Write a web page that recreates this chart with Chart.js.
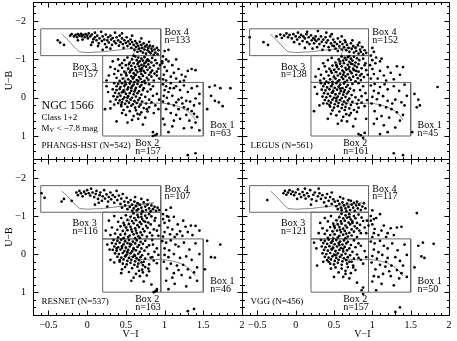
<!DOCTYPE html>
<html><head><meta charset="utf-8">
<script src="https://cdn.jsdelivr.net/npm/chart.js@4"></script>
<style>
body{margin:0;background:#fff}
#wrap{position:relative;width:457px;height:341px;overflow:hidden}
.pane{position:absolute}
</style>
</head><body>
<div id="wrap">
<div class="pane" id="p0" style="left:0;top:0;width:244px;height:161px"><canvas id="c0"></canvas></div>
<div class="pane" id="p1" style="left:240px;top:0;width:212px;height:161px"><canvas id="c1"></canvas></div>
<div class="pane" id="p2" style="left:0;top:157px;width:248px;height:184px"><canvas id="c2"></canvas></div>
<div class="pane" id="p3" style="left:240px;top:157px;width:217px;height:184px"><canvas id="c3"></canvas></div>
</div>
<script>
// ---------- data ----------
const X_TICKS = [-0.5, 0, 0.5, 1, 1.5, 2];
const Y_TICKS = [-2, -1, 0, 1];
const PANEL_NAMES = ['PHANGS-HST', 'LEGUS', 'RESNET', 'VGG'];
const PANEL_N = [542, 561, 537, 456];
// counts in Box 1, Box 2, Box 3, Box 4
const BOX_COUNTS = [[63,157,157,133],[45,161,138,152],[46,163,116,107],[50,157,121,117]];
const BOX4 = [[-0.6,-1.8],[0.95,-1.8],[0.95,-1.1],[-0.6,-1.1],[-0.6,-1.8]];
const BOX3 = [[0.2,-1.1],[0.95,-1.1],[0.95,-0.4],[0.2,-0.4],[0.2,-1.1]];
const BOX2 = [[0.2,-0.4],[0.95,-0.4],[0.95,1.0],[0.2,1.0],[0.2,-0.4]];
const BOX1 = [[0.95,-0.4],[1.5,-0.4],[1.5,1.0],[0.95,1.0],[0.95,-0.4]];
const TRACK = [[-0.33,-1.66],[-0.27,-1.55],[-0.2,-1.4],[-0.14,-1.27],[-0.1,-1.2],[0,-1.18],[0.2,-1.2],[0.5,-1.27],[0.7,-1.31],[0.86,-1.35],[0.72,-1.3],[0.62,-1.25],[0.58,-1.05],[0.53,-0.8],[0.49,-0.55],[0.48,-0.3],[0.5,-0.1],[0.55,0.05],[0.63,0.13],[0.8,0.15],[0.97,0.14],[1.1,0.18],[1.2,0.24],[1.3,0.35],[1.36,0.47],[1.4,0.58]];

const PTS_PHANGS = [
[-.38,-1.5],[-.35,-1.44],[-.3,-1.38],[-.22,-1.62],[-.2,-1.66],[-.17,-1.6],[-.15,-1.64],[-.13,-1.58],[-.12,-1.66],[-.1,-1.62],[-.08,-1.67],[-.07,-1.6],[-.05,-1.64],[-.03,-1.58],[-.02,-1.66],[0,-1.62],[.02,-1.68],[.01,-1.55],[-.06,-1.52],[-.12,-1.5],[.04,-1.6],[.06,-1.65],[.08,-1.53],[.1,-1.7],
[.07,-1.45],[.1,-1.58],[.12,-1.5],[.13,-1.62],[.15,-1.42],[.16,-1.55],[.18,-1.72],[.19,-1.48],[.2,-1.6],[.22,-1.52],[.23,-1.4],[.24,-1.65],[.26,-1.5],[.27,-1.58],[.28,-1.44],[.3,-1.62],[.31,-1.52],[.32,-1.38],[.33,-1.56],[.35,-1.47],[.36,-1.7],[.37,-1.42],[.38,-1.58],[.4,-1.5],[.41,-1.36],[.42,-1.62],[.43,-1.45],[.45,-1.55],[.46,-1.4],[.47,-1.3],[.48,-1.5],[.5,-1.43],[.51,-1.58],[.52,-1.35],[.53,-1.47],[.25,-1.32],[.14,-1.35],[.05,-1.38],[.3,-1.28],[.2,-1.25],
[.55,-1.4],[.56,-1.52],[.57,-1.3],[.58,-1.45],[.6,-1.38],[.61,-1.25],[.62,-1.48],[.63,-1.33],[.64,-1.42],[.65,-1.2],[.66,-1.36],[.67,-1.28],[.68,-1.46],[.69,-1.22],[.7,-1.38],[.71,-1.3],[.72,-1.18],[.73,-1.42],[.74,-1.26],[.75,-1.34],[.76,-1.15],[.77,-1.38],[.78,-1.24],[.79,-1.3],[.8,-1.2],[.81,-1.36],[.82,-1.16],[.83,-1.28],[.84,-1.22],[.85,-1.34],[.86,-1.12],[.87,-1.26],[.88,-1.18],[.9,-1.3],[.91,-1.14],[.92,-1.24],[.58,-1.62],[.45,-1.68],[.7,-1.55],[.8,-1.46],
[1.0,-1.22],[1.05,-1.25],[.98,-1.08],[1.02,-1.0],[.97,-.95],
[.62,-1.08],[.66,-1.05],[.7,-1.02],[.74,-1.06],[.78,-1.0],[.58,-1.0],[.64,-.98],[.68,-.95],[.72,-.97],[.76,-.93],[.8,-.96],[.84,-1.04],[.88,-.98],[.55,-.92],[.6,-.9],[.65,-.88],[.7,-.86],[.74,-.9],[.79,-.87],[.83,-.92],[.9,-.9],[.5,-.85],[.57,-.83],[.62,-.8],[.67,-.82],[.71,-.78],[.76,-.81],[.81,-.79],[.86,-.84],[.45,-.78],[.53,-.76],[.58,-.74],[.63,-.72],[.68,-.75],[.73,-.7],[.78,-.73],[.84,-.71],[.92,-.76],[.4,-.7],[.48,-.68],[.55,-.66],[.6,-.64],[.65,-.67],[.7,-.62],[.75,-.65],[.8,-.6],[.87,-.63],[.44,-.6],[.51,-.58],[.57,-.56],[.62,-.59],[.67,-.54],[.72,-.57],[.77,-.52],[.83,-.55],[.9,-.58],[.38,-.52],[.46,-.5],[.53,-.48],[.59,-.5],[.64,-.46],[.69,-.49],[.74,-.44],[.79,-.47],[.86,-.45],[.42,-.44],[.49,-.42],[.56,-.43],[.61,-.41],[.66,-.44],[.71,-.41],[.35,-.62],[.3,-.8],[.33,-.95],[.4,-1.0],[.45,-.9],[.52,-1.05],[.48,-.98],[.42,-.85],[.36,-.75],[.28,-.58],[.25,-.45],[.93,-.5],[.9,-.68],[.94,-.85],[.6,-1.1],[.73,-.84],[.69,-.69],[.63,-.6],[.56,-.71],[.54,-.88],[.77,-.97],[.82,-.66],[.5,-.63],[.6,-.53],[.7,-.74],[.66,-.92],
[.35,-.38],[.4,-.36],[.45,-.38],[.5,-.35],[.55,-.37],[.6,-.34],[.65,-.36],[.7,-.33],[.75,-.38],[.8,-.35],[.38,-.3],[.43,-.28],[.48,-.31],[.53,-.27],[.58,-.3],[.63,-.26],[.68,-.29],[.73,-.25],[.85,-.3],[.33,-.22],[.38,-.2],[.42,-.23],[.47,-.19],[.52,-.22],[.57,-.18],[.62,-.21],[.67,-.17],[.72,-.2],[.78,-.16],[.36,-.13],[.41,-.11],[.45,-.14],[.5,-.1],[.55,-.12],[.6,-.09],[.65,-.12],[.7,-.08],[.34,-.04],[.39,-.02],[.43,-.05],[.48,-.01],[.53,-.04],[.58,0],[.63,-.03],[.68,.01],[.75,-.02],[.37,.05],[.42,.07],[.46,.04],[.51,.08],[.56,.05],[.61,.09],[.66,.06],[.71,.1],[.4,.14],[.45,.12],[.49,.16],[.54,.13],[.59,.17],[.64,.14],[.69,.18],[.76,.15],[.83,.12],[.88,.2],[.44,.22],[.52,.24],[.57,.21],[.62,.26],[.67,.23],[.73,.27],[.8,.25],[.92,.3],[.3,.28],[.47,.32],[.55,.35],[.63,.33],[.7,.38],[.78,.36],[.86,.4],[.5,.45],[.6,.48],[.68,.44],[.75,.52],[.58,.58],[.66,.55],[.38,.62],[.52,.65],[.72,.7],[.85,.9],[.88,.98],[.3,.1],[.27,-.15],[.25,-.3],[.9,-.1],[.93,.05],[.82,-.22],[.8,.05],[.85,-.05],[.77,.3],[.65,.42],[.45,.4],[.35,.18],[.23,.3],[.57,-.25],[.47,-.15],[.61,-.16],[.52,0],[.44,.18],
[.98,-.35],[1.02,-.3],[1.08,-.38],[1.12,-.25],[1.0,-.2],[1.05,-.15],[1.15,-.3],[1.2,-.2],[1.25,-.32],[1.3,-.15],[1.35,-.25],[1.42,-.3],[1.45,-.1],[.99,-.05],[1.03,0],[1.1,-.05],[1.18,.05],[1.22,0],[1.28,.08],[1.33,.1],[1.4,.02],[1.45,.15],[.98,.1],[1.05,.15],[1.12,.2],[1.15,.12],[1.25,.25],[1.3,.3],[1.35,.35],[1.38,.42],[1.42,.5],[1.02,.3],[1.08,.4],[1.15,.45],[1.2,.55],[1.32,.6],[1.4,.65],[1.0,.7],[1.1,.75],[1.25,.8],[1.35,.78],[1.45,.85],[1.05,.9],[.98,.55],[1.12,.6],[1.28,.45],[1.18,.3],[1.07,-.25],[1.23,.15],[1.38,.2],
[.97,-.9],[1.0,-.8],[1.03,-.7],[1.05,-.95],[.99,-.6],[1.08,-.55],[1.12,-.65],[1.15,-.5],[1.18,-.75],[1.22,-.6],[1.25,-.45],[1.3,-.7],[1.35,-.75],[1.4,-.72],[1.15,-1.0],[1.1,-.85],[.98,-.48],[1.02,-.45],[1.27,-.55],[1.2,-.42],
[1.58,-.28],[1.65,-.32],[1.72,-.25],[1.6,-.05],[1.65,.08],[1.7,.12],[1.75,.22],[1.55,.3],[1.85,-.25],
[1.3,1.5],[1.4,1.45],[.85,1.0],[.9,.95]];

const PTS_LEGUS = [
[-.6,-1.58],[-.42,-1.45],[-.36,-1.38],[-.25,-1.6],[-.2,-1.65],[-.18,-1.56],[-.15,-1.62],[-.12,-1.68],[-.1,-1.58],[-.08,-1.64],[-.05,-1.55],[-.03,-1.66],[0,-1.6],[.02,-1.52],[.03,-1.7],[.05,-1.58],[.07,-1.64],[.09,-1.48],[.1,-1.6],[.12,-1.55],[.14,-1.66],[.15,-1.45],[.17,-1.58],[.18,-1.4],[.2,-1.63],[.21,-1.5],[.23,-1.56],[.24,-1.42],[.26,-1.6],[.27,-1.48],[.29,-1.74],[.3,-1.53],[.31,-1.4],[.33,-1.6],[.34,-1.46],[.36,-1.52],[.37,-1.35],[.39,-1.58],[.4,-1.44],[.42,-1.5],[.43,-1.32],[.45,-1.6],[.46,-1.42],[.48,-1.36],[.49,-1.52],[.51,-1.45],[.52,-1.28],[.54,-1.4],[.55,-1.55],[.57,-1.34],[.58,-1.46],[.6,-1.26],[.61,-1.4],[.63,-1.32],[.64,-1.5],[.66,-1.24],[.67,-1.38],[.69,-1.3],[.7,-1.2],[.72,-1.42],[.73,-1.27],[.75,-1.35],[.76,-1.18],[.78,-1.3],[.79,-1.22],[.81,-1.38],[.82,-1.15],[.84,-1.26],[.85,-1.2],[.87,-1.32],[.88,-1.13],[.9,-1.24],[.92,-1.17],[.35,-1.25],[.22,-1.28],[.12,-1.3],[.05,-1.4],[-.02,-1.45],[.28,-1.32],[.47,-1.66],[.6,-1.6],[.74,-1.5],[.83,-1.44],[.4,-1.7],[.65,-1.45],[.55,-1.22],[.44,-1.24],[.15,-1.72],[.25,-1.52],[.5,-1.35],
[1.0,-1.3],[1.02,-1.2],[.98,-1.1],[1.05,-1.05],[1.1,-.95],[1.0,-.98],
[.6,-1.08],[.64,-1.04],[.68,-1.06],[.72,-1.02],[.76,-1.07],[.8,-1.03],[.56,-1.0],[.62,-.97],[.66,-.99],[.7,-.94],[.74,-.97],[.78,-.92],[.83,-.98],[.88,-1.02],[.52,-.92],[.58,-.89],[.63,-.9],[.68,-.86],[.72,-.89],[.77,-.84],[.82,-.88],[.9,-.85],[.48,-.84],[.54,-.81],[.6,-.82],[.65,-.78],[.7,-.8],[.75,-.76],[.8,-.8],[.86,-.77],[.44,-.76],[.5,-.73],[.56,-.75],[.61,-.71],[.66,-.73],[.71,-.69],[.76,-.72],[.82,-.68],[.92,-.72],[.4,-.68],[.47,-.65],[.53,-.67],[.58,-.63],[.63,-.66],[.68,-.61],[.73,-.64],[.79,-.6],[.86,-.62],[.43,-.58],[.5,-.55],[.55,-.58],[.6,-.54],[.65,-.56],[.7,-.52],[.75,-.55],[.81,-.51],[.89,-.54],[.37,-.5],[.45,-.48],[.52,-.5],[.57,-.46],[.62,-.49],[.67,-.45],[.72,-.47],[.78,-.43],[.85,-.46],[.4,-.42],[.48,-.41],[.55,-.43],[.64,-.41],[.33,-.6],[.3,-.75],[.36,-.9],[.42,-.98],[.47,-1.04],[.38,-.82],[.32,-.45],[.26,-.55],[.94,-.6],[.91,-.9],[.84,-.58],[.58,-.95],[.69,-.75],[.74,-.88],[.62,-.6],[.53,-.85],[.79,-.7],[.46,-.7],[.7,-1.09],
[.33,-.38],[.38,-.36],[.43,-.39],[.48,-.35],[.53,-.38],[.58,-.34],[.63,-.37],[.68,-.33],[.74,-.36],[.82,-.38],[.36,-.3],[.41,-.27],[.46,-.3],[.51,-.26],[.56,-.29],[.61,-.25],[.66,-.28],[.71,-.24],[.88,-.3],[.34,-.21],[.39,-.19],[.44,-.22],[.49,-.18],[.54,-.21],[.59,-.17],[.64,-.2],[.69,-.16],[.76,-.19],[.37,-.12],[.42,-.1],[.47,-.13],[.52,-.09],[.57,-.11],[.62,-.08],[.67,-.11],[.73,-.07],[.35,-.03],[.4,-.01],[.45,-.04],[.5,0],[.55,-.03],[.6,.01],[.65,-.02],[.7,.02],[.78,-.01],[.38,.06],[.43,.08],[.48,.05],[.53,.09],[.58,.06],[.63,.1],[.68,.07],[.74,.11],[.41,.15],[.46,.13],[.51,.17],[.56,.14],[.61,.18],[.66,.15],[.72,.19],[.8,.16],[.86,.13],[.45,.23],[.5,.26],[.55,.22],[.6,.27],[.65,.24],[.7,.28],[.82,.26],[.9,.22],[.31,.2],[.48,.33],[.57,.36],[.64,.32],[.72,.4],[.8,.37],[.53,.46],[.62,.5],[.7,.46],[.78,.55],[.6,.6],[.67,.62],[.42,.55],[.55,.68],[.75,.75],[.9,.92],[.85,.98],[.92,.55],[.28,-.1],[.25,-.28],[.91,-.12],[.93,.06],[.84,-.2],[.82,.06],[.86,-.04],[.76,.32],[.66,.43],[.46,.42],[.36,.15],[.24,.35],[.58,-.24],[.48,-.14],[.63,-.15],[.53,.02],[.44,.19],
[.98,-.32],[1.03,-.36],[1.1,-.28],[1.16,-.35],[1.02,-.18],[1.08,-.12],[1.2,-.22],[1.28,-.3],[1.35,-.18],[1.42,-.34],[1.0,-.02],[1.06,.04],[1.14,-.04],[1.2,.08],[1.3,.05],[1.38,.12],[1.45,-.05],[.99,.15],[1.1,.2],[1.18,.25],[1.25,.3],[1.32,.38],[1.4,.45],[1.03,.35],[1.12,.48],[1.22,.52],[1.36,.6],[1.02,.68],[1.15,.72],[1.3,.78],[1.1,.95],[1.2,.9],[1.42,.2],[1.06,.55],[1.26,.15],
[.97,-.85],[1.0,-.75],[1.04,-.9],[1.02,-.62],[1.07,-.5],[1.1,-.7],[1.15,-.58],[1.2,-.8],[1.24,-.65],[1.28,-.48],[1.32,-.82],[1.4,-.8],[1.18,-.45],[.98,-.5],[1.12,-1.02],[1.36,-.6],
[1.55,-.1],[1.6,.05],[1.58,.25],[1.85,-.28],[1.62,.2],[1.52,.9],
[.82,.95],[.88,1.05],[1.28,1.45],[1.4,1.5]];

const PTS_RESNET = [
[-.59,-1.6],[-.55,-1.48],[-.33,-1.38],[-.3,-1.45],[-.14,-1.62],[-.12,-1.55],[-.1,-1.66],[-.08,-1.6],[-.06,-1.52],[-.04,-1.64],[-.02,-1.58],[0,-1.68],[.02,-1.6],[.04,-1.54],[.05,-1.72],[.07,-1.62],[.09,-1.5],[.11,-1.58],[.12,-1.66],[.14,-1.45],[.16,-1.55],[.17,-1.62],[.19,-1.4],[.2,-1.52],[.22,-1.68],[.23,-1.46],[.25,-1.57],[.27,-1.38],[.28,-1.5],[.3,-1.62],[.31,-1.44],[.33,-1.55],[.35,-1.35],[.36,-1.5],[.38,-1.66],[.39,-1.42],[.41,-1.54],[.43,-1.32],[.44,-1.46],[.46,-1.58],[.48,-1.38],[.49,-1.28],[.51,-1.48],[.53,-1.36],[.55,-1.24],[.56,-1.42],[.58,-1.3],[.6,-1.2],[.61,-1.38],[.63,-1.26],[.65,-1.34],[.66,-1.18],[.68,-1.3],[.7,-1.22],[.71,-1.14],[.73,-1.36],[.75,-1.25],[.76,-1.16],[.78,-1.3],[.8,-1.2],[.82,-1.13],[.83,-1.28],[.85,-1.18],[.87,-1.24],[.89,-1.14],[.91,-1.22],[.93,-1.16],[.64,-1.15],[.72,-1.12],[.58,-1.14],[.52,-1.18],[.45,-1.22],[.26,-1.25],[.1,-1.3],[-.2,-1.4],[.62,-1.5],[.78,-1.42],[.7,-1.45],[.15,-1.35],
[1.02,-1.16],[1.05,-.98],[.98,-1.05],[1.08,-1.22],
[.6,-1.07],[.65,-1.03],[.7,-1.06],[.75,-1.01],[.8,-1.05],[.56,-.98],[.61,-.95],[.66,-.97],[.71,-.92],[.77,-.95],[.83,-.99],[.52,-.9],[.58,-.87],[.63,-.89],[.68,-.84],[.73,-.87],[.79,-.83],[.87,-.88],[.47,-.82],[.54,-.79],[.6,-.81],[.65,-.76],[.7,-.79],[.76,-.74],[.82,-.78],[.43,-.73],[.5,-.7],[.56,-.72],[.62,-.68],[.67,-.71],[.72,-.66],[.78,-.69],[.86,-.65],[.39,-.64],[.46,-.61],[.52,-.63],[.58,-.59],[.63,-.62],[.69,-.57],[.74,-.6],[.81,-.56],[.9,-.62],[.36,-.54],[.43,-.51],[.49,-.53],[.55,-.49],[.6,-.52],[.66,-.47],[.71,-.5],[.77,-.46],[.84,-.49],[.4,-.44],[.47,-.42],[.53,-.45],[.62,-.42],[.68,-.43],[.32,-.7],[.28,-.88],[.35,-1.0],[.44,-.95],[.5,-1.02],[.4,-.85],[.3,-.5],[.24,-.62],[.93,-.75],[.92,-.48],[.88,-.95],[.57,-.65],[.75,-.85],[.64,-.55],[.7,-.98],[.48,-.76],
[.34,-.37],[.39,-.35],[.44,-.38],[.49,-.34],[.54,-.37],[.59,-.33],[.64,-.36],[.69,-.32],[.75,-.35],[.84,-.37],[.32,-.29],[.37,-.27],[.42,-.3],[.47,-.26],[.52,-.29],[.57,-.25],[.62,-.28],[.67,-.24],[.72,-.27],[.8,-.23],[.35,-.2],[.4,-.18],[.45,-.21],[.5,-.17],[.55,-.2],[.6,-.16],[.65,-.19],[.7,-.15],[.77,-.18],[.33,-.11],[.38,-.09],[.43,-.12],[.48,-.08],[.53,-.11],[.58,-.07],[.63,-.1],[.68,-.06],[.74,-.09],[.36,-.02],[.41,0],[.46,-.03],[.51,.01],[.56,-.02],[.61,.02],[.66,-.01],[.71,.03],[.79,0],[.39,.07],[.44,.09],[.49,.06],[.54,.1],[.59,.07],[.64,.11],[.69,.08],[.75,.12],[.82,.09],[.42,.16],[.47,.14],[.52,.18],[.57,.15],[.62,.19],[.67,.16],[.73,.2],[.86,.17],[.46,.25],[.51,.27],[.56,.23],[.61,.28],[.66,.25],[.72,.29],[.8,.27],[.9,.24],[.3,.15],[.49,.34],[.58,.37],[.65,.33],[.71,.41],[.79,.38],[.54,.47],[.63,.52],[.72,.48],[.77,.56],[.6,.62],[.68,.58],[.44,.5],[.57,.7],[.73,.72],[.83,.8],[.88,.98],[.9,.92],[.29,-.12],[.26,-.25],[.9,-.15],[.92,.02],[.85,-.25],[.84,.08],[.87,-.06],[.75,.34],[.67,.44],[.45,.4],[.35,.22],[.55,-.27],[.45,-.16],[.6,-.13],[.5,.04],[.42,.2],[.62,.05],[.52,-.05],[.7,.22],[.38,-.15],[.8,.45],
[.97,-.34],[1.02,-.3],[1.08,-.36],[1.14,-.25],[1.0,-.15],[1.06,-.1],[1.18,-.2],[1.25,-.3],[1.32,-.12],[1.4,-.28],[1.0,.02],[1.05,.08],[1.12,0],[1.2,.1],[1.28,.06],[1.35,.15],[1.45,0],[.99,.2],[1.08,.25],[1.16,.3],[1.24,.28],[1.3,.4],[1.38,.48],[1.03,.38],[1.12,.5],[1.22,.55],[1.33,.62],[1.42,.7],[1.02,.7],[1.13,.78],[1.28,.85],[1.05,.92],[1.18,.42],[1.42,.35],[1.1,.62],
[.98,-.92],[1.0,-.82],[1.04,-.7],[1.06,-.88],[1.0,-.58],[1.07,-.52],[1.1,-.65],[1.13,-.45],[1.17,-.78],[1.2,-.6],[1.23,-.48],[1.27,-.72],[1.3,-.58],[1.34,-.75],[1.4,-.74],[1.45,-.62],[1.12,-.98],[.98,-.46],[1.16,-.52],[1.36,-.5],[1.03,-1.0],[1.24,-.88],
[1.6,.08],[1.65,.09],[1.72,-.25],[1.55,-.35],[1.52,.4],
[.86,1.0],[.9,.96],[1.3,1.5],[1.38,1.44]];

const PTS_VGG = [
[-.37,-1.42],[-.16,-1.6],[-.14,-1.66],[-.12,-1.56],[-.1,-1.62],[-.08,-1.68],[-.06,-1.58],[-.04,-1.64],[-.02,-1.55],[0,-1.62],[.03,-1.7],[.05,-1.58],[.07,-1.5],[.09,-1.63],[.11,-1.55],[.13,-1.46],[.15,-1.6],[.17,-1.52],[.19,-1.68],[.21,-1.44],[.23,-1.56],[.25,-1.62],[.27,-1.4],[.29,-1.52],[.31,-1.6],[.33,-1.45],[.35,-1.55],[.37,-1.36],[.39,-1.48],[.41,-1.58],[.43,-1.4],[.45,-1.5],[.47,-1.32],[.49,-1.44],[.51,-1.38],[.53,-1.26],[.55,-1.4],[.57,-1.32],[.59,-1.22],[.61,-1.36],[.63,-1.28],[.65,-1.2],[.67,-1.33],[.69,-1.24],[.71,-1.16],[.73,-1.3],[.75,-1.22],[.77,-1.14],[.79,-1.28],[.81,-1.2],[.83,-1.3],[.85,-1.16],[.87,-1.25],[.89,-1.34],[.91,-1.2],[.66,-1.13],[.6,-1.15],[.55,-1.18],[.72,-1.4],[.02,-1.45],[.2,-1.3],[.4,-1.26],[.62,-1.46],[.8,-1.38],[.3,-1.72],[.12,-1.72],[.47,-1.62],[.58,-1.5],[.69,-1.42],[.76,-1.35],
[1.0,-1.15],[.98,-1.0],[1.02,-.92],
[.6,-1.06],[.65,-1.02],[.7,-1.05],[.76,-1.0],[.82,-1.04],[.57,-.97],[.62,-.94],[.67,-.96],[.72,-.91],[.78,-.94],[.53,-.89],[.59,-.86],[.64,-.88],[.69,-.83],[.74,-.86],[.8,-.82],[.88,-.87],[.49,-.8],[.55,-.78],[.6,-.8],[.65,-.75],[.71,-.78],[.77,-.73],[.84,-.77],[.45,-.71],[.51,-.69],[.57,-.71],[.62,-.67],[.67,-.7],[.73,-.65],[.8,-.68],[.9,-.7],[.41,-.62],[.48,-.6],[.54,-.62],[.59,-.58],[.64,-.61],[.7,-.56],[.76,-.59],[.85,-.55],[.38,-.53],[.45,-.5],[.51,-.52],[.57,-.48],[.62,-.51],[.68,-.46],[.73,-.49],[.8,-.45],[.42,-.43],[.49,-.41],[.55,-.44],[.65,-.42],[.35,-.68],[.32,-.82],[.38,-.95],[.46,-1.0],[.42,-.86],[.3,-.55],[.93,-.88],[.92,-.55],[.86,-.96],[.58,-.64],[.74,-.82],[.66,-.54],[.7,-.97],[.5,-.74],[.83,-.62],[.95,-.75],
[.33,-.37],[.38,-.35],[.43,-.38],[.48,-.34],[.53,-.37],[.58,-.33],[.63,-.36],[.68,-.32],[.76,-.36],[.36,-.29],[.41,-.27],[.46,-.3],[.51,-.26],[.56,-.29],[.61,-.25],[.66,-.28],[.72,-.24],[.82,-.28],[.34,-.2],[.39,-.18],[.44,-.21],[.49,-.17],[.54,-.2],[.59,-.16],[.64,-.19],[.7,-.15],[.78,-.18],[.37,-.11],[.42,-.09],[.47,-.12],[.52,-.08],[.57,-.11],[.62,-.07],[.67,-.1],[.74,-.06],[.35,-.02],[.4,0],[.45,-.03],[.5,.01],[.55,-.02],[.6,.02],[.65,-.01],[.71,.03],[.8,.01],[.38,.07],[.43,.09],[.48,.06],[.53,.1],[.58,.07],[.63,.11],[.68,.08],[.76,.12],[.41,.16],[.46,.14],[.51,.18],[.56,.15],[.61,.19],[.66,.16],[.73,.2],[.85,.15],[.45,.25],[.5,.27],[.55,.23],[.6,.28],[.67,.25],[.75,.3],[.88,.25],[.28,.3],[.52,.35],[.6,.38],[.68,.34],[.78,.42],[.56,.48],[.65,.52],[.72,.5],[.62,.6],[.7,.64],[.5,.6],[.8,.75],[.86,.95],[.88,.88],[.27,-.15],[.24,-.3],[.9,-.08],[.92,.08],[.85,-.22],[.82,.1],[.75,.35],[.65,.44],[.46,.38],[.36,.2],[.57,-.24],[.47,-.14],[.62,-.14],[.52,.03],[.43,.2],[.7,.2],
[.98,-.33],[1.03,-.28],[1.1,-.35],[1.15,-.22],[1.02,-.12],[1.08,-.05],[1.2,-.15],[1.26,-.28],[1.33,-.1],[1.42,-.25],[1.0,.05],[1.06,.12],[1.13,.02],[1.2,.1],[1.3,.08],[1.36,.18],[1.45,.02],[.99,.22],[1.1,.28],[1.17,.33],[1.25,.3],[1.32,.42],[1.38,.5],[1.04,.4],[1.14,.52],[1.24,.58],[1.35,.64],[1.0,.72],[1.12,.78],[1.28,.82],[1.05,.95],[1.4,.3],[1.08,.6],[1.22,.45],[1.45,.6],[1.18,.2],[1.02,.58],
[.98,-.88],[1.0,-.78],[1.03,-.66],[1.05,-.95],[1.02,-.55],[1.08,-.5],[1.12,-.62],[1.15,-.75],[1.2,-.55],[1.24,-.68],[1.28,-.5],[1.32,-.7],[1.38,-.72],[1.0,-.45],[1.18,-.45],[1.1,-1.05],
[1.58,-1.08],[1.6,-.22],[1.66,-.3],[1.8,-.27],[1.64,.06],[1.68,.1],[1.55,.35],
[.88,1.05],[1.3,1.52],[1.36,1.4]];

const PANEL_POINTS = [PTS_PHANGS, PTS_LEGUS, PTS_RESNET, PTS_VGG];
const X_TITLE_AT = [null, null, 0.56, 0.87];

// ---------- drawing ----------
const FONT = '"Liberation Serif", "DejaVu Serif", serif';
const xy = a => a.map(([x, y]) => ({x, y}));
const fmt = v => (v < 0 ? '\u2212' + (-v) : String(v));

const framePlugin = {
  id: 'frame',
  afterDatasetsDraw(chart, args, o) {
    const {ctx, chartArea: a} = chart;
    const xs = chart.scales.x, ys = chart.scales.y;
    const L = Math.round(a.left) + 0.5, R = Math.round(a.right) + 0.5;
    const T = Math.round(a.top) + 0.5, B = Math.round(a.bottom) + 0.5;
    ctx.save();
    ctx.strokeStyle = '#000'; ctx.lineWidth = 1;
    ctx.strokeRect(L, T, R - L, B - T);
    ctx.beginPath();
    for (let i = -7; i <= 20; i++) {
      const px = Math.round(xs.getPixelForValue(i / 10)) + 0.5;
      const len = i % 5 === 0 ? 5 : 2.5;
      ctx.moveTo(px, B); ctx.lineTo(px, B - len);
      ctx.moveTo(px, T); ctx.lineTo(px, T + len);
    }
    for (let i = -12; i <= 8; i++) {
      const py = Math.round(ys.getPixelForValue(i / 5)) + 0.5;
      const len = i % 5 === 0 ? 5 : 2.5;
      ctx.moveTo(L, py); ctx.lineTo(L + len, py);
      ctx.moveTo(R, py); ctx.lineTo(R - len, py);
    }
    ctx.stroke();

    const p = o.panel;
    const cnt = BOX_COUNTS[p];
    const txt = (s, vx, vy) => ctx.fillText(s, xs.getPixelForValue(vx), ys.getPixelForValue(vy));
    ctx.fillStyle = '#000';
    ctx.textBaseline = 'middle';
    ctx.textAlign = 'left';
    ctx.font = '10px ' + FONT;
    txt('Box 4', 1.0, -1.71); txt('n=' + cnt[3], 1.0, -1.51);
    txt('Box 3', -0.19, -0.8); txt('n=' + cnt[2], -0.19, -0.61);
    txt('Box 2', 0.62, 1.2); txt('n=' + cnt[1], 0.62, 1.4);
    txt('Box 1', 1.59, 0.72); txt('n=' + cnt[0], 1.59, 0.92);
    ctx.font = '9px ' + FONT;
    txt(PANEL_NAMES[p] + ' (N=' + PANEL_N[p] + ')', -0.59, 1.24);
    if (p === 0) {
      ctx.font = '12px ' + FONT;
      txt('NGC 1566', -0.59, 0.21);
      ctx.font = '9px ' + FONT;
      txt('Class 1+2', -0.59, 0.51);
      const mx = xs.getPixelForValue(-0.59), my = ys.getPixelForValue(0.8);
      ctx.fillText('M', mx, my);
      const w = ctx.measureText('M').width;
      ctx.font = '6.5px ' + FONT;
      ctx.fillText('V', mx + w, my + 2);
      const w2 = ctx.measureText('V').width;
      ctx.font = '9px ' + FONT;
      ctx.fillText(' < \u22127.8 mag', mx + w + w2, my);
    }
    if (X_TITLE_AT[p] !== null) {
      ctx.font = '10px ' + FONT;
      ctx.textAlign = 'center';
      ctx.fillText('V\u2212I', xs.getPixelForValue(X_TITLE_AT[p]), a.bottom + 19);
    }
    if (p % 2 === 0) {
      ctx.font = '10px ' + FONT;
      ctx.textAlign = 'center';
      ctx.translate(9, (a.top + a.bottom) / 2);
      ctx.rotate(-Math.PI / 2);
      ctx.fillText('U\u2212B', 0, 0);
    }
    ctx.restore();
  }
};

const PADS = [
  {left: 0, top: 2, right: 2, bottom: 2},
  {left: 2, top: 2, right: 3, bottom: 2},
  {left: 0, top: 2, right: 6, bottom: 0},
  {left: 2, top: 2, right: 8, bottom: 0}
];

for (let p = 0; p < 4; p++) {
  const el = document.getElementById('c' + p);
  const showY = p % 2 === 0, showX = p >= 2;
  const lineDs = (d, c) => ({data: xy(d), showLine: true, borderColor: c, borderWidth: 1, pointRadius: 0, fill: false, tension: 0});
  new Chart(el, {
    type: 'scatter',
    data: {datasets: [
      {data: xy(PANEL_POINTS[p]), pointRadius: 1.35, pointBackgroundColor: '#000', pointBorderWidth: 0, pointHoverRadius: 0},
      lineDs(BOX4, '#666'), lineDs(BOX3, '#666'), lineDs(BOX2, '#666'), lineDs(BOX1, '#666'),
      lineDs(TRACK, '#888')
    ]},
    options: {
      responsive: true, maintainAspectRatio: false, animation: false, devicePixelRatio: 1, events: [],
      layout: {padding: PADS[p]},
      plugins: {legend: {display: false}, tooltip: {enabled: false}, frame: {panel: p}},
      scales: {
        x: {
          type: 'linear', min: -0.7, max: 2.0, display: showX,
          grid: {display: false, drawTicks: false}, border: {display: false},
          afterBuildTicks: s => { s.ticks = X_TICKS.map(v => ({value: v})); },
          afterFit: s => { s.height = showX ? 26 : 0; s.paddingLeft = 0; s.paddingRight = 0; },
          ticks: {padding: 4, maxRotation: 0, autoSkip: false, color: '#000', font: {family: FONT, size: 10}, callback: fmt}
        },
        y: {
          type: 'linear', min: -2.5, max: 1.6, reverse: true, display: showY,
          grid: {display: false, drawTicks: false}, border: {display: false},
          afterBuildTicks: s => { s.ticks = Y_TICKS.map(v => ({value: v})); },
          afterFit: s => { s.width = showY ? 33 : 0; s.paddingTop = 0; s.paddingBottom = 0; },
          ticks: {padding: 7, autoSkip: false, color: '#000', font: {family: FONT, size: 10}, callback: fmt}
        }
      }
    },
    plugins: [framePlugin]
  });
}
</script>
</body></html>
